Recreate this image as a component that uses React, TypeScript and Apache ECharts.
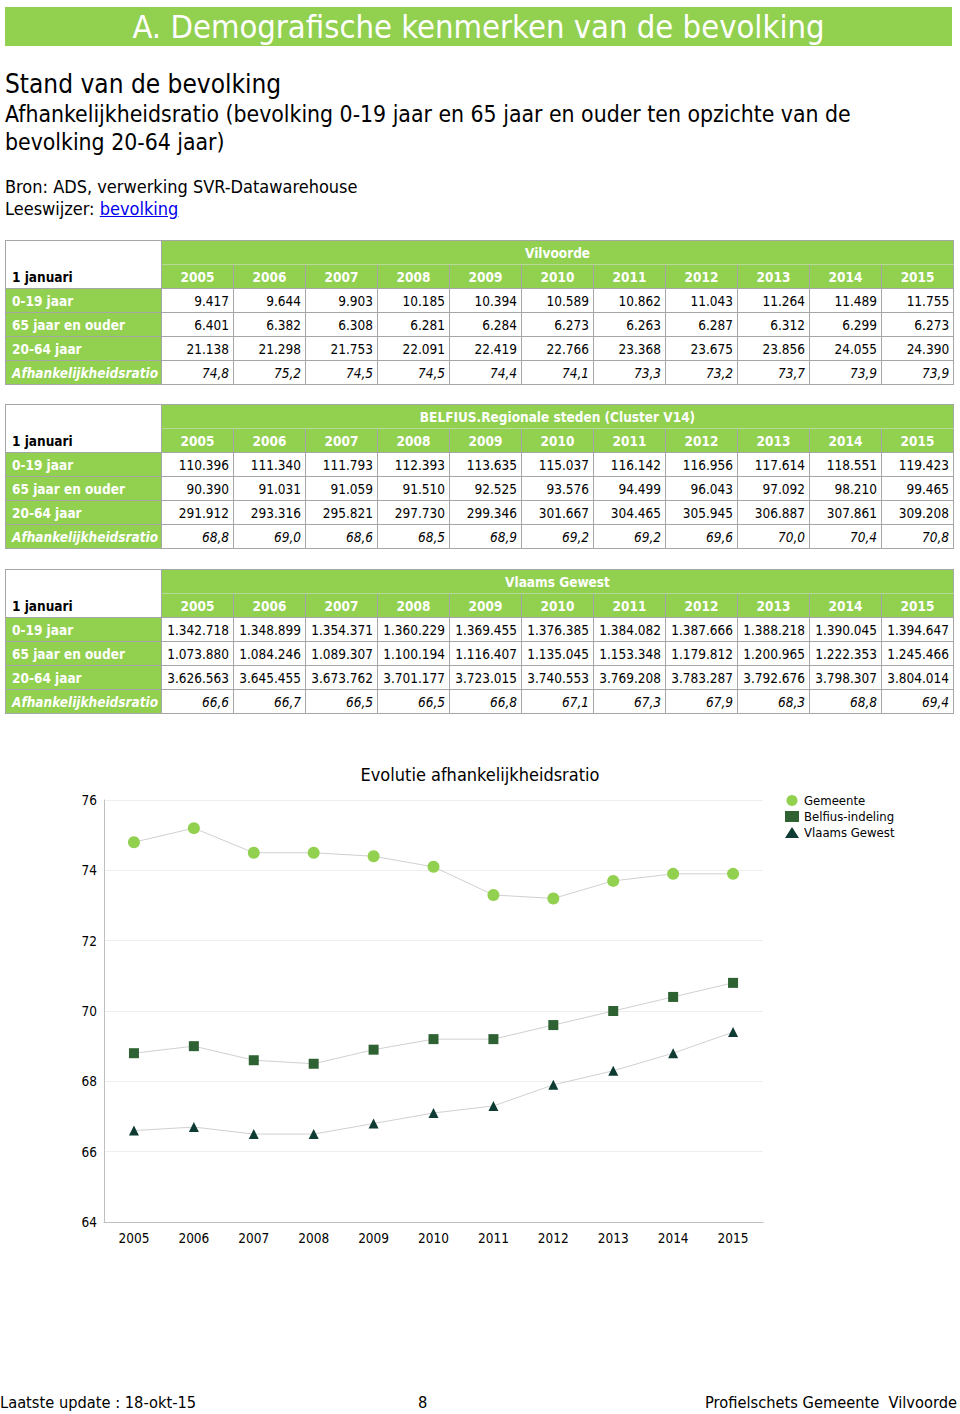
import React, { useEffect, useRef } from "react";
import * as echarts from "echarts";

const years = ["2005", "2006", "2007", "2008", "2009", "2010", "2011", "2012", "2013", "2014", "2015"];
const rowLabels = ["0-19 jaar", "65 jaar en ouder", "20-64 jaar", "Afhankelijkheidsratio"];

const vilvoorde0_19 = ["9.417", "9.644", "9.903", "10.185", "10.394", "10.589", "10.862", "11.043", "11.264", "11.489", "11.755"];
const vilvoorde65 = ["6.401", "6.382", "6.308", "6.281", "6.284", "6.273", "6.263", "6.287", "6.312", "6.299", "6.273"];
const vilvoorde20_64 = ["21.138", "21.298", "21.753", "22.091", "22.419", "22.766", "23.368", "23.675", "23.856", "24.055", "24.390"];
const gemeenteRatio = [74.8, 75.2, 74.5, 74.5, 74.4, 74.1, 73.3, 73.2, 73.7, 73.9, 73.9];

const belfius0_19 = ["110.396", "111.340", "111.793", "112.393", "113.635", "115.037", "116.142", "116.956", "117.614", "118.551", "119.423"];
const belfius65 = ["90.390", "91.031", "91.059", "91.510", "92.525", "93.576", "94.499", "96.043", "97.092", "98.210", "99.465"];
const belfius20_64 = ["291.912", "293.316", "295.821", "297.730", "299.346", "301.667", "304.465", "305.945", "306.887", "307.861", "309.208"];
const belfiusRatio = [68.8, 69.0, 68.6, 68.5, 68.9, 69.2, 69.2, 69.6, 70.0, 70.4, 70.8];

const vlaams0_19 = ["1.342.718", "1.348.899", "1.354.371", "1.360.229", "1.369.455", "1.376.385", "1.384.082", "1.387.666", "1.388.218", "1.390.045", "1.394.647"];
const vlaams65 = ["1.073.880", "1.084.246", "1.089.307", "1.100.194", "1.116.407", "1.135.045", "1.153.348", "1.179.812", "1.200.965", "1.222.353", "1.245.466"];
const vlaams20_64 = ["3.626.563", "3.645.455", "3.673.762", "3.701.177", "3.723.015", "3.740.553", "3.769.208", "3.783.287", "3.792.676", "3.798.307", "3.804.014"];
const vlaamsRatio = [66.6, 66.7, 66.5, 66.5, 66.8, 67.1, 67.3, 67.9, 68.3, 68.8, 69.4];

const yTicks = { min: 64, max: 76, interval: 2 };

const GREEN = "#92D050";
const BORDER = "#A6A6A6";
const FONT = "'DejaVu Sans Condensed', 'DejaVu Sans', sans-serif";
const NARROW = "'Liberation Sans Narrow', 'DejaVu Sans Condensed', sans-serif";

const fmtRatio = (v: number) => v.toFixed(1).replace(".", ",");

function DataTable(props: { top: number; title: string; rows: string[][] }) {
  const { top, title, rows } = props;
  const labelCell: React.CSSProperties = {
    background: GREEN,
    color: "#fff",
    fontWeight: "bold",
    paddingLeft: 6,
    textAlign: "left",
    border: `1px solid ${BORDER}`,
    whiteSpace: "nowrap",
    overflow: "hidden",
  };
  const dataCell: React.CSSProperties = {
    background: "#fff",
    color: "#000",
    textAlign: "right",
    paddingRight: 4,
    border: `1px solid ${BORDER}`,
    whiteSpace: "nowrap",
  };
  return (
    <table
      style={{
        position: "absolute",
        left: 5,
        top,
        width: 948,
        borderCollapse: "collapse",
        tableLayout: "fixed",
        fontFamily: FONT,
        fontSize: 13.5,
        border: `1px solid ${BORDER}`,
      }}
    >
      <colgroup>
        <col style={{ width: 156 }} />
        {years.map((y) => (
          <col key={y} style={{ width: 72 }} />
        ))}
      </colgroup>
      <tbody>
        <tr style={{ height: 24 }}>
          <td
            rowSpan={2}
            style={{
              verticalAlign: "bottom",
              fontWeight: "bold",
              paddingLeft: 6,
              paddingBottom: 3,
              border: `1px solid ${BORDER}`,
              background: "#fff",
            }}
          >
            1 januari
          </td>
          <td
            colSpan={years.length}
            style={{ background: GREEN, color: "#fff", fontWeight: "bold", textAlign: "center", border: `1px solid ${BORDER}`, borderBottom: "1px solid #B9D99A" }}
          >
            {title}
          </td>
        </tr>
        <tr style={{ height: 24 }}>
          {years.map((y) => (
            <td
              key={y}
              style={{
                background: GREEN,
                color: "#fff",
                fontWeight: "bold",
                textAlign: "center",
                borderLeft: `1px solid ${BORDER}`,
                borderRight: `1px solid ${BORDER}`,
                borderBottom: `1px solid ${BORDER}`,
                borderTop: "1px solid #B9D99A",
              }}
            >
              {y}
            </td>
          ))}
        </tr>
        {rows.map((r, i) => {
          const last = i === rows.length - 1;
          return (
            <tr key={i} style={{ height: 24 }}>
              <td style={{ ...labelCell, fontStyle: last ? "italic" : "normal" }}>{rowLabels[i]}</td>
              {r.map((v, j) => (
                <td key={j} style={{ ...dataCell, fontStyle: last ? "italic" : "normal" }}>
                  {v}
                </td>
              ))}
            </tr>
          );
        })}
      </tbody>
    </table>
  );
}

export default function App() {
  const ref = useRef<HTMLDivElement>(null);
  useEffect(() => {
    if (!ref.current) return;
    const chart = echarts.init(ref.current, undefined, { renderer: "svg" });
    const lineStyle = { color: "#D0D0D0", width: 1 };
    chart.setOption({
      animation: false,
      textStyle: { fontFamily: FONT },
      title: {
        text: "Evolutie afhankelijkheidsratio",
        left: "center",
        top: 20,
        textStyle: { fontSize: 18, fontWeight: "normal", color: "#000", fontFamily: FONT },
      },
      legend: {
        orient: "vertical",
        left: 780,
        top: 49,
        itemGap: 3,
        itemWidth: 14,
        itemHeight: 11,
        textStyle: { fontSize: 13, color: "#000", fontFamily: FONT },
        data: [
          { name: "Gemeente", icon: "circle" },
          { name: "Belfius-indeling", icon: "rect" },
          { name: "Vlaams Gewest", icon: "triangle" },
        ],
      },
      grid: { left: 104, right: 197, top: 60, bottom: 38 },
      xAxis: {
        type: "category",
        data: years,
        axisTick: { show: false },
        axisLine: { lineStyle: { color: "#BFBFBF" } },
        axisLabel: { fontSize: 13.5, color: "#000", margin: 9, fontFamily: FONT },
      },
      yAxis: {
        type: "value",
        min: yTicks.min,
        max: yTicks.max,
        interval: yTicks.interval,
        axisLine: { show: true, lineStyle: { color: "#BFBFBF" } },
        axisTick: { show: false },
        splitLine: { lineStyle: { color: "#EEEEEE" } },
        axisLabel: { fontSize: 13.5, color: "#000", margin: 7, fontFamily: FONT },
      },
      series: [
        {
          name: "Gemeente",
          type: "line",
          data: gemeenteRatio,
          symbol: "circle",
          symbolSize: 12,
          itemStyle: { color: "#92D050" },
          lineStyle,
        },
        {
          name: "Belfius-indeling",
          type: "line",
          data: belfiusRatio,
          symbol: "rect",
          symbolSize: 10,
          itemStyle: { color: "#2E6232" },
          lineStyle,
        },
        {
          name: "Vlaams Gewest",
          type: "line",
          data: vlaamsRatio,
          symbol: "triangle",
          symbolSize: 10,
          itemStyle: { color: "#0E3B33" },
          lineStyle,
        },
      ],
    });
    return () => chart.dispose();
  }, []);

  const t1 = [vilvoorde0_19, vilvoorde65, vilvoorde20_64, gemeenteRatio.map(fmtRatio)];
  const t2 = [belfius0_19, belfius65, belfius20_64, belfiusRatio.map(fmtRatio)];
  const t3 = [vlaams0_19, vlaams65, vlaams20_64, vlaamsRatio.map(fmtRatio)];

  const textBase: React.CSSProperties = { position: "absolute", whiteSpace: "nowrap", fontFamily: FONT, color: "#000" };

  return (
    <div style={{ position: "absolute", left: 0, top: 0, width: 960, height: 1414, background: "#fff", overflow: "hidden" }}>
      <div
        style={{
          position: "absolute",
          left: 5,
          top: 7,
          width: 947,
          height: 39,
          background: GREEN,
          color: "#fff",
          fontFamily: FONT,
          fontSize: 32.5,
          lineHeight: "41px",
          textAlign: "center",
          whiteSpace: "nowrap",
        }}
      >
        A. Demografische kenmerken van de bevolking
      </div>
      <div style={{ ...textBase, left: 5, top: 69, fontSize: 26, lineHeight: "30px" }}>Stand van de bevolking</div>
      <div style={{ ...textBase, left: 5, top: 100, fontSize: 22.8, lineHeight: "28px" }}>
        Afhankelijkheidsratio (bevolking 0-19 jaar en 65 jaar en ouder ten opzichte van de
      </div>
      <div style={{ ...textBase, left: 5, top: 128, fontSize: 22.8, lineHeight: "28px" }}>bevolking 20-64 jaar)</div>
      <div style={{ ...textBase, left: 5, top: 176, fontSize: 18, lineHeight: "22px" }}>Bron: ADS, verwerking SVR-Datawarehouse</div>
      <div style={{ ...textBase, left: 5, top: 198, fontSize: 18, lineHeight: "22px" }}>
        Leeswijzer: <a href="#" style={{ color: "#0000EE", textDecoration: "underline" }}>bevolking</a>
      </div>

      <DataTable top={240} title="Vilvoorde" rows={t1} />
      <DataTable top={404} title="BELFIUS.Regionale steden (Cluster V14)" rows={t2} />
      <DataTable top={569} title="Vlaams Gewest" rows={t3} />

      <div ref={ref} style={{ position: "absolute", left: 0, top: 740, width: 960, height: 520 }} />

      <div style={{ ...textBase, left: 0, top: 1393, fontSize: 16.3, lineHeight: "20px", fontFamily: NARROW }}>
        Laatste update : 18-okt-15
      </div>
      <div style={{ ...textBase, left: 418, top: 1393, fontSize: 16.3, lineHeight: "20px", fontFamily: NARROW }}>8</div>
      <div style={{ ...textBase, right: 3, top: 1393, fontSize: 16.3, lineHeight: "20px", fontFamily: NARROW }}>
        Profielschets Gemeente&nbsp; Vilvoorde
      </div>
    </div>
  );
}
